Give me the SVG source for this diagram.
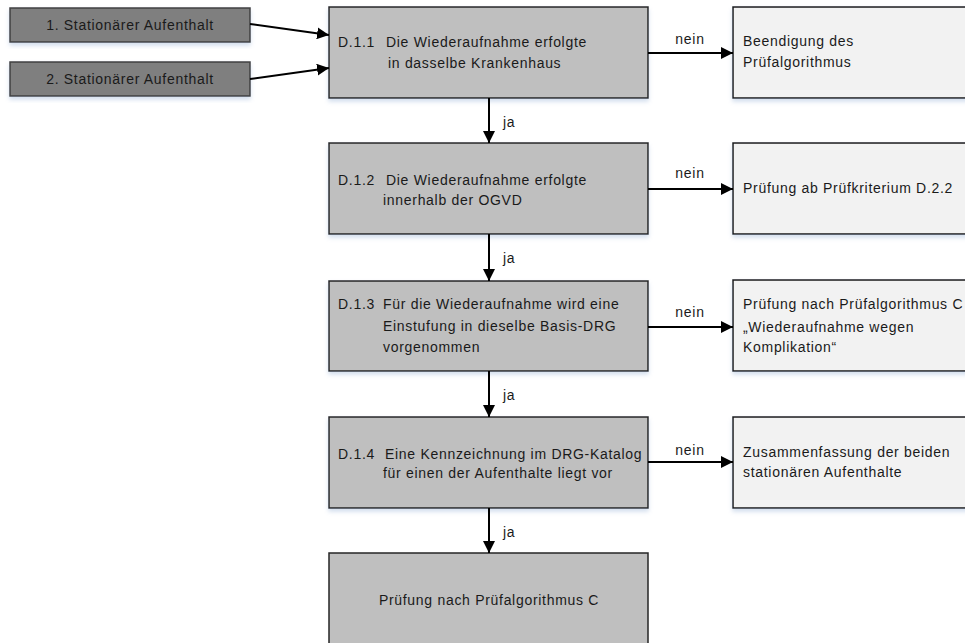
<svg xmlns="http://www.w3.org/2000/svg" width="965" height="643" viewBox="0 0 965 643">
  <defs>
    <filter id="shadow" x="-5%" y="-10%" width="110%" height="130%">
      <feDropShadow dx="0" dy="3" stdDeviation="2" flood-color="#9fb8d9" flood-opacity="0.45"/>
    </filter>
    <marker id="arrow" viewBox="0 0 12 12" refX="12" refY="6" markerWidth="12" markerHeight="12" markerUnits="userSpaceOnUse" orient="auto">
      <path d="M0,0 L12,6 L0,12 Z" fill="#000"/>
    </marker>
    <style>
      text { font-family: "Liberation Sans", Arial, sans-serif; font-size: 14px; letter-spacing: 0.7px; fill: #1a1a1a; }
      .start { fill: #7f7f7f; stroke: #404040; stroke-width: 1.5; }
      .step { fill: #bfbfbf; stroke: #262626; stroke-width: 1.5; }
      .result { fill: #f2f2f2; stroke: #1a1a1a; stroke-width: 1.5; }
      .line { stroke: #000; stroke-width: 2; fill: none; marker-end: url(#arrow); }
      .mid { text-anchor: middle; }
    </style>
  </defs>

  <!-- Start nodes -->
  <g id="start1">
    <rect class="start" x="10" y="8" width="240" height="34" filter="url(#shadow)"/>
    <text class="mid" x="130" y="30">1. Stationärer Aufenthalt</text>
  </g>
  <g id="start2">
    <rect class="start" x="10" y="62" width="240" height="34" filter="url(#shadow)"/>
    <text class="mid" x="130" y="84">2. Stationärer Aufenthalt</text>
  </g>

  <!-- Check steps -->
  <g id="d11">
    <rect class="step" x="329" y="7" width="319" height="91" filter="url(#shadow)"/>
    <text x="338" y="47">D.1.1</text>
    <text x="386" y="47">Die Wiederaufnahme erfolgte</text>
    <text x="388" y="68">in dasselbe Krankenhaus</text>
  </g>
  <g id="d12">
    <rect class="step" x="329" y="143" width="319" height="91" filter="url(#shadow)"/>
    <text x="338" y="185">D.1.2</text>
    <text x="386" y="185">Die Wiederaufnahme erfolgte</text>
    <text x="383" y="205">innerhalb der OGVD</text>
  </g>
  <g id="d13">
    <rect class="step" x="329" y="281" width="319" height="90" filter="url(#shadow)"/>
    <text x="338" y="309">D.1.3</text>
    <text x="383" y="309">Für die Wiederaufnahme wird eine</text>
    <text x="383" y="331">Einstufung in dieselbe Basis-DRG</text>
    <text x="383" y="352">vorgenommen</text>
  </g>
  <g id="d14">
    <rect class="step" x="329" y="417" width="319" height="91" filter="url(#shadow)"/>
    <text x="338" y="459">D.1.4</text>
    <text x="385" y="459">Eine Kennzeichnung im DRG-Katalog</text>
    <text x="383" y="478">für einen der Aufenthalte liegt vor</text>
  </g>
  <g id="final">
    <rect class="step" x="329" y="553" width="319" height="100"/>
    <text class="mid" x="489" y="605">Prüfung nach Prüfalgorithmus C</text>
  </g>

  <!-- Outcomes -->
  <g id="r1">
    <rect class="result" x="733" y="7" width="240" height="91" filter="url(#shadow)"/>
    <text x="743" y="46">Beendigung des</text>
    <text x="743" y="67">Prüfalgorithmus</text>
  </g>
  <g id="r2">
    <rect class="result" x="733" y="143" width="240" height="91" filter="url(#shadow)"/>
    <text x="743" y="193">Prüfung ab Prüfkriterium D.2.2</text>
  </g>
  <g id="r3">
    <rect class="result" x="733" y="280" width="240" height="91" filter="url(#shadow)"/>
    <text x="743" y="309">Prüfung nach Prüfalgorithmus C</text>
    <text x="743" y="332">„Wiederaufnahme wegen</text>
    <text x="743" y="352">Komplikation“</text>
  </g>
  <g id="r4">
    <rect class="result" x="733" y="417" width="240" height="91" filter="url(#shadow)"/>
    <text x="743" y="457">Zusammenfassung der beiden</text>
    <text x="743" y="477">stationären Aufenthalte</text>
  </g>

  <!-- Connectors -->
  <g id="connectors">
    <line class="line" x1="250" y1="24" x2="329" y2="35"/>
    <line class="line" x1="250" y1="79" x2="329" y2="68"/>

    <line class="line" x1="489" y1="98" x2="489" y2="143"/>
    <line class="line" x1="489" y1="234" x2="489" y2="281"/>
    <line class="line" x1="489" y1="371" x2="489" y2="417"/>
    <line class="line" x1="489" y1="508" x2="489" y2="553"/>

    <line class="line" x1="648" y1="53" x2="733" y2="53"/>
    <line class="line" x1="648" y1="189" x2="733" y2="189"/>
    <line class="line" x1="648" y1="327" x2="733" y2="327"/>
    <line class="line" x1="648" y1="462" x2="733" y2="462"/>

    <text x="503" y="127">ja</text>
    <text x="503" y="263">ja</text>
    <text x="503" y="400">ja</text>
    <text x="503" y="537">ja</text>

    <text class="mid" x="690" y="44">nein</text>
    <text class="mid" x="690" y="178">nein</text>
    <text class="mid" x="690" y="317">nein</text>
    <text class="mid" x="690" y="455">nein</text>
  </g>
</svg>
